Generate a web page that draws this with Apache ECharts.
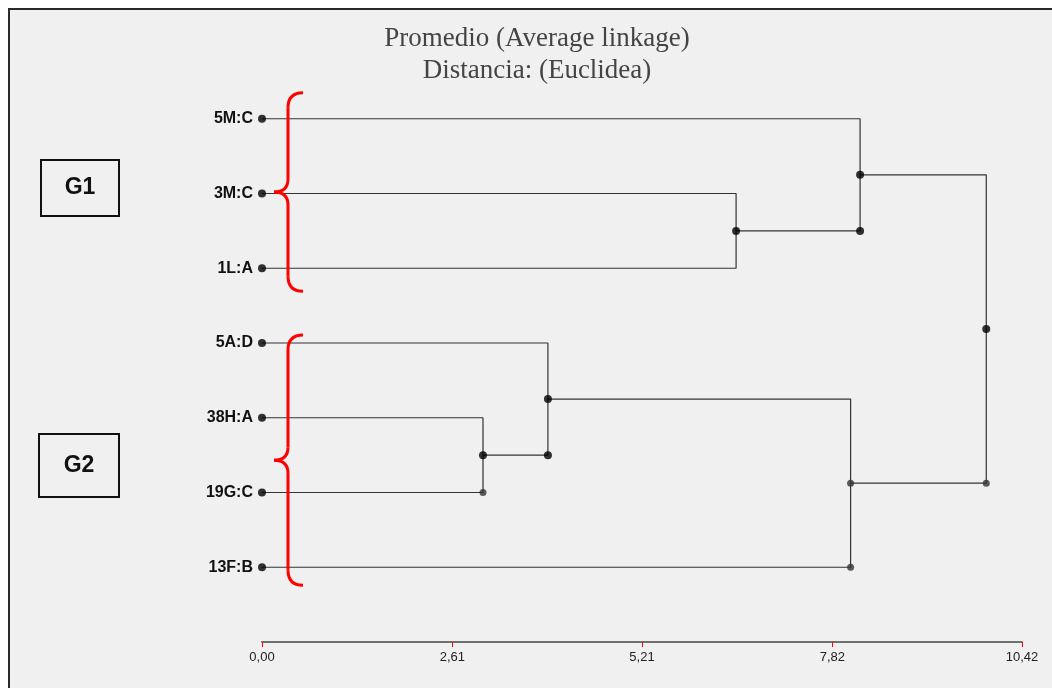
<!DOCTYPE html>
<html>
<head>
<meta charset="utf-8">
<script src="https://cdn.jsdelivr.net/npm/echarts@6/dist/echarts.min.js"></script>
<style>
html,body{margin:0;padding:0;background:#fff;}
#chart{width:1052px;height:688px;}
</style>
</head>
<body>
<div id="chart"></div>
<script>
// ---- data ----
var leaves = ['5M:C', '3M:C', '1L:A', '5A:D', '38H:A', '19G:C', '13F:B'];
// merges: [leftChild, rightChild, distance]; ids 0..6 are leaves, 7.. are clusters in order
var mergeLeft   = [4, 3, 8, 1, 0, 11];
var mergeRight  = [5, 7, 6, 2, 10, 9];
var mergeHeight = [3.03, 3.92, 8.07, 6.50, 8.20, 9.93];
var mergeRightDot  = [1, 1, 1, 0, 1, 1];
var mergeNodeGray  = [0, 0, 1, 0, 0, 0];
var mergeRightGray = [1, 0, 1, 0, 0, 1];
var tickLabels = ['0,00', '2,61', '5,21', '7,82', '10,42'];
var groupNames = ['G1', 'G2'];
var groupLeaves = [[0, 2], [3, 6]]; // first and last leaf of each group
var titleLines = ['Promedio (Average linkage)', 'Distancia: (Euclidea)'];

// ---- build dendrogram geometry in data units ----
var tickValues = tickLabels.map(function (s) { return parseFloat(s.replace(',', '.')); });
var nodeX = [], nodeY = [];
leaves.forEach(function (l, i) { nodeX.push(0); nodeY.push(i); });
var segSeries = [];
var nodeDots = [], nodeDotsGray = [];
mergeHeight.forEach(function (h, k) {
  var a = mergeLeft[k], b = mergeRight[k];
  var y = (nodeY[a] + nodeY[b]) / 2;
  segSeries.push({
    type: 'line',
    data: [[nodeX[a], nodeY[a]], [h, nodeY[a]], [h, nodeY[b]], [nodeX[b], nodeY[b]]],
    symbol: 'none',
    lineStyle: { color: '#333', width: 1.2 },
    silent: true,
    clip: false,
    z: 2
  });
  nodeX.push(h); nodeY.push(y);
  (mergeNodeGray[k] ? nodeDotsGray : nodeDots).push([h, y]);
  if (mergeRightDot[k]) (mergeRightGray[k] ? nodeDotsGray : nodeDots).push([h, nodeY[b]]);
});
var leafDots = leaves.map(function (l, i) { return [0, i]; });

var chart = echarts.init(document.getElementById('chart'), null, { renderer: 'canvas' });

var option = {
  animation: false,
  backgroundColor: '#ffffff',
  grid: { left: 262, right: 30, top: 44, height: 598, containLabel: false },
  xAxis: {
    type: 'value',
    min: 0,
    max: tickValues[tickValues.length - 1],
    axisLine: { show: true, onZero: false, lineStyle: { color: '#707070', width: 2 } },
    axisTick: { show: true, inside: false, customValues: tickValues, length: 5, lineStyle: { color: '#ff0000', width: 1 } },
    axisLabel: {
      customValues: tickValues,
      color: '#222',
      fontSize: 13,
      fontFamily: 'Liberation Sans, Arial, sans-serif',
      margin: 9,
      formatter: function (v) {
        var best = 0;
        tickValues.forEach(function (t, i) { if (Math.abs(t - v) < Math.abs(tickValues[best] - v)) best = i; });
        return tickLabels[best];
      }
    },
    splitLine: { show: false }
  },
  yAxis: {
    type: 'value',
    inverse: true,
    min: -1,
    max: leaves.length,
    interval: 1,
    axisLine: { show: false },
    axisTick: { show: false },
    splitLine: { show: false },
    axisLabel: {
      margin: 9,
      color: '#111',
      fontWeight: 'bold',
      fontSize: 16,
      fontFamily: 'Liberation Sans, Arial, sans-serif',
      formatter: function (v) { return (v >= 0 && v < leaves.length) ? leaves[v] : ''; }
    }
  },
  series: segSeries.concat([
    {
      type: 'scatter', data: leafDots, symbolSize: 8, clip: false, silent: true,
      itemStyle: { color: '#000' }, z: 5
    },
    {
      type: 'scatter', data: nodeDots, symbolSize: 8, clip: false, silent: true,
      itemStyle: { color: '#000' }, z: 5
    },
    {
      type: 'scatter', data: nodeDotsGray, symbolSize: 7, clip: false, silent: true,
      itemStyle: { color: '#333' }, z: 5
    }
  ])
};
chart.setOption(option);

// ---- annotations (frame, title, group boxes, braces) ----
var braceTopPad = [26, 8];
var braceBotPad = [23, 18];
var boxRects = [[41, 160, 78, 56], [39, 434, 80, 63]];

var graphics = [
  {
    type: 'rect', z: -10, silent: true,
    shape: { x: 9, y: 9, width: 1100, height: 700 },
    style: { fill: '#f0f0f0', stroke: '#2a2a2a', lineWidth: 2 }
  },
  {
    type: 'text', silent: true, x: 537, y: 23, z: 10,
    style: {
      text: titleLines.join('\n'), fill: '#444', font: '27px "Liberation Serif", "DejaVu Serif", serif',
      align: 'center', verticalAlign: 'top', lineHeight: 32
    }
  }
];
var gx = 288;
var braceStyle = { fill: null, stroke: '#ff0000', lineWidth: 3 };
function addCurve(x1, y1, cx, cy, x2, y2) {
  graphics.push({ type: 'bezierCurve', silent: true, z: 20,
    shape: { x1: x1, y1: y1, x2: x2, y2: y2, cpx1: cx, cpy1: cy }, style: braceStyle });
}
function addLine(x1, y1, x2, y2) {
  graphics.push({ type: 'line', silent: true, z: 20,
    shape: { x1: x1, y1: y1, x2: x2, y2: y2 }, style: braceStyle });
}
groupLeaves.forEach(function (g, k) {
  var yTop = chart.convertToPixel({ gridIndex: 0 }, [0, g[0]])[1];
  var yBot = chart.convertToPixel({ gridIndex: 0 }, [0, g[1]])[1];
  var top = yTop - braceTopPad[k], bot = yBot + braceBotPad[k];
  var mid = (top + bot) / 2;
  addCurve(gx + 15, top, gx, top, gx, top + 15);
  addLine(gx, top + 15, gx, mid - 13);
  addCurve(gx, mid - 13, gx, mid, gx - 14, mid);
  addCurve(gx - 14, mid, gx, mid, gx, mid + 13);
  addLine(gx, mid + 13, gx, bot - 15);
  addCurve(gx, bot - 15, gx, bot, gx + 15, bot);
  var b = boxRects[k];
  graphics.push({
    type: 'rect', silent: true, z: 10,
    shape: { x: b[0], y: b[1], width: b[2], height: b[3] },
    style: { fill: null, stroke: '#111', lineWidth: 2 }
  });
  graphics.push({
    type: 'text', silent: true, z: 11, x: b[0] + b[2] / 2, y: b[1] + b[3] / 2,
    style: {
      text: groupNames[k], fill: '#111', font: 'bold 23px "Liberation Sans", Arial, sans-serif',
      align: 'center', verticalAlign: 'middle'
    }
  });
});
chart.setOption({ graphic: graphics });
</script>
</body>
</html>
